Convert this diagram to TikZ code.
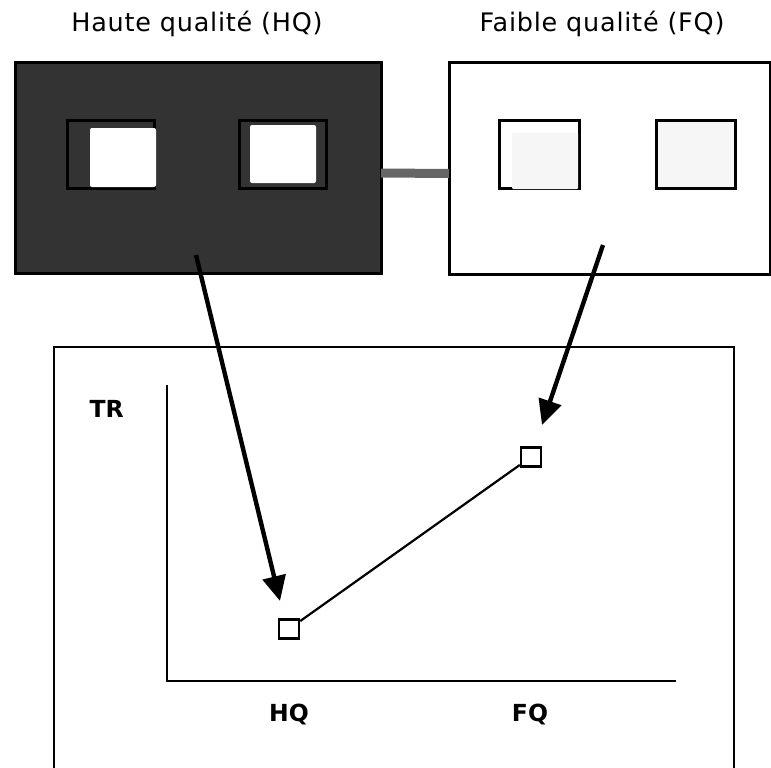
\documentclass[tikz,border=0pt]{standalone}
\usepackage{fontspec}
\setmainfont{DejaVu Sans}
\newfontfamily\titlefont{DejaVu Sans}[LetterSpace=3]
\usetikzlibrary{arrows.meta}
\definecolor{panel}{HTML}{333333}
\definecolor{bar}{HTML}{666666}
\definecolor{pale}{HTML}{F6F6F6}
\tikzset{
  box/.style={draw=black, line width=3pt, anchor=north west, inner sep=0pt, outer sep=0pt},
  frame/.style={draw=black, line width=3pt, anchor=north west, inner sep=0pt, outer sep=0pt},
  pane/.style={fill=white, rounded corners=2pt, anchor=north west, inner sep=0pt, outer sep=0pt},
  title/.style={font=\titlefont\fontsize{25.5}{29}\selectfont, anchor=base},
  axislabel/.style={font=\bfseries\fontsize{23.5}{27}\selectfont, anchor=base},
  marker/.style={draw=black, fill=white, line width=2.4pt, minimum width=20pt, minimum height=19pt, inner sep=0pt},
  bigarrow/.style={line width=4.4pt, -{Triangle[length=25pt, width=23pt]}},
}
\begin{document}
\begin{tikzpicture}[x=1pt, y=-1pt]
  \useasboundingbox (0,0) rectangle (771,768);
  \clip (0,0) rectangle (771,768);

  % titles
  \node[title] (thq) at (197,32) {Haute qualité (HQ)};
  \node[title] (tfq) at (602,32) {Faible qualité (FQ)};

  % high quality panel
  \node[box, fill=panel, minimum width=366pt, minimum height=210pt] (hq) at (15,63) {};
  \node[frame, minimum width=87pt, minimum height=68pt] (hqa) at (67,120) {};
  \node[pane, minimum width=66pt, minimum height=59pt] (hqaw) at (90,128) {};
  \node[frame, minimum width=87pt, minimum height=68pt] (hqb) at (239,120) {};
  \node[pane, minimum width=66pt, minimum height=58pt] (hqbw) at (250,125) {};

  % low quality panel
  \node[box, fill=white, minimum width=321pt, minimum height=211pt] (fq) at (449,63) {};
  \node[frame, minimum width=80pt, minimum height=68pt] (fqa) at (499,120) {};
  \node[pane, fill=pale, rounded corners=1pt, minimum width=66pt, minimum height=56pt] (fqaw) at (512,133) {};
  \node[frame, fill=pale, minimum width=79pt, minimum height=68pt] (fqb) at (656,120) {};

  % link between the panels
  \draw[bar, line width=9pt] ([yshift=-5pt]hq.east) -- ([yshift=-5pt]fq.west);

  % chart frame
  \node[box, line width=2.6pt, minimum width=680pt, minimum height=440pt] (chart) at (54,347) {};

  % axes
  \coordinate (ytop) at (167,385);
  \coordinate (origin) at (167,681);
  \coordinate (xend) at (676,681);
  \draw[line width=2.8pt] (ytop) -- (origin) -- (xend);

  \node[axislabel, anchor=base west] (tr) at (86,417) {TR};
  \node[axislabel] (lhq) at (289,721) {HQ};
  \node[axislabel] (lfq) at (530,721) {FQ};

  % data points
  \node[marker] (phq) at (289,629) {};
  \node[marker] (pfq) at (531,457) {};
  \draw[line width=2.2pt] (phq) -- (pfq);

  % arrows from the panels to the points
  \coordinate (s1) at (196,255);
  \coordinate (e1) at (280,601);
  \coordinate (s2) at (603,245);
  \coordinate (e2) at (542,425);
  \draw[bigarrow] (s1) -- (e1);
  \draw[bigarrow] (s2) -- (e2);
\end{tikzpicture}
\end{document}
